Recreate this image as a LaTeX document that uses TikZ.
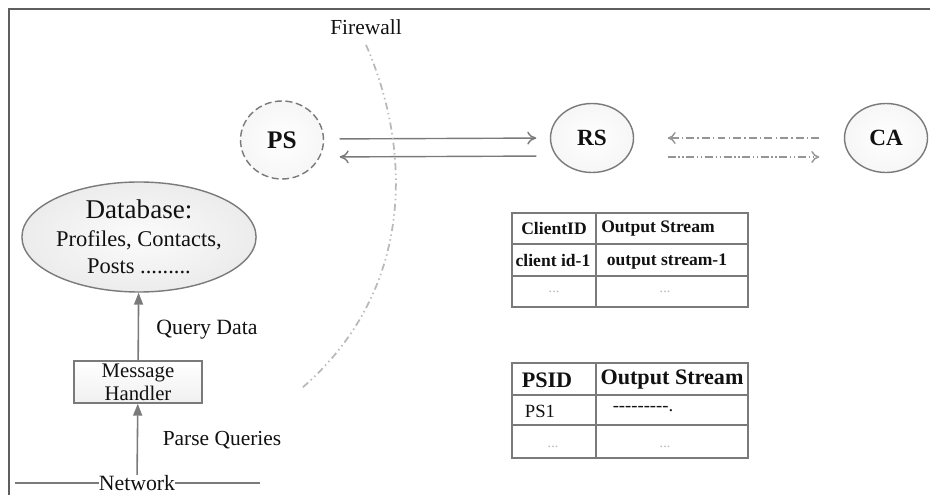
\documentclass[tikz,border=0pt]{standalone}
\usepackage{fontspec}
\setmainfont{Liberation Serif}
\usetikzlibrary{arrows.meta,positioning,shapes.geometric}

\definecolor{linegray}{HTML}{7A7A7A}
\definecolor{framegray}{HTML}{5E5E5E}
\definecolor{inkgray}{HTML}{111111}

\begin{document}
\begin{tikzpicture}[x=1cm,y=1cm]
\tikzset{
  server/.style={ellipse,draw=linegray,line width=0.8pt,minimum width=1.66cm,minimum height=1.38cm,inner sep=0pt,
    inner color=white,outer color=gray!7,text=inkgray,font=\fontsize{13.2}{15}\selectfont\bfseries},
  store/.style={ellipse,draw=linegray,line width=0.8pt,minimum width=4.24cm,minimum height=2.2cm,inner sep=0pt,
    inner color=gray!3,outer color=gray!15,text=inkgray,align=center,font=\fontsize{12.8}{15.6}\selectfont},
  handler/.style={rectangle,draw=linegray,line width=0.8pt,minimum width=2.56cm,minimum height=0.84cm,inner sep=0pt,
    top color=white,bottom color=gray!12,text=inkgray,align=center,font=\fontsize{11.8}{13}\selectfont},
  caption/.style={inner sep=0pt,text=inkgray,font=\fontsize{12.4}{14}\selectfont},
  cellhead/.style={inner sep=0pt,text=inkgray,font=\fontsize{10}{12}\selectfont\bfseries},
  cellbig/.style={inner sep=0pt,text=inkgray,font=\fontsize{12.6}{14}\selectfont\bfseries},
  cell/.style={inner sep=0pt,text=inkgray,font=\fontsize{10.6}{12}\selectfont},
  celldots/.style={inner sep=0pt,text=gray!60,font=\fontsize{8}{9}\selectfont},
  grid/.style={draw=linegray,line width=0.9pt},
  link/.style={linegray,line width=0.8pt,-{To[length=1.8mm,width=2.6mm]}},
  flow/.style={linegray,line width=0.9pt,-{Triangle[length=2.4mm,width=1.8mm]}},
  dashdot/.style={linegray!80,line width=0.8pt,-{To[length=1.6mm,width=2.4mm]},
    dash pattern=on 4.5pt off 1.8pt on 0.8pt off 1.8pt},
  dashdotdot/.style={linegray!80,line width=0.8pt,-{To[length=1.6mm,width=2.4mm]},
    dash pattern=on 4.5pt off 1.5pt on 0.8pt off 1.5pt on 0.8pt off 1.5pt},
  firewall/.style={gray!55,line width=1pt,dash pattern=on 4pt off 2pt on 0.8pt off 2pt on 0.8pt off 2pt}
}
\useasboundingbox (0,0) rectangle (18.6,9.9);
% frame
\draw[framegray,line width=1.4pt] (0.18,0) -- (0.18,9.72) -- (18.6,9.72);
% servers
\node[server,dashed,dash pattern=on 4pt off 2pt,minimum height=1.56cm,font=\fontsize{14.4}{16}\selectfont\bfseries] (n_ps) at (5.64,7.10) {PS};
\node[server] (n_rs) at (11.84,7.14) {RS};
\node[server] (n_ca) at (17.72,7.14) {CA};
\draw[link,shorten <=0.31cm,shorten >=0.27cm] ([yshift=0.02cm]n_ps.east) -- (n_rs.west);
\draw[link,shorten <=0.27cm,shorten >=0.31cm] ([yshift=-0.36cm]n_rs.west) -- ([yshift=-0.34cm]n_ps.east);
\draw[dashdot,shorten <=0.49cm,shorten >=0.67cm] (n_ca.west) -- (n_rs.east);
\draw[dashdotdot,shorten <=0.67cm,shorten >=0.49cm] ([yshift=-0.38cm]n_rs.east) -- ([yshift=-0.38cm]n_ca.west);
% firewall
\node[caption,font=\fontsize{12.2}{14}\selectfont] (n_fw) at (7.32,9.36) {Firewall};
\coordinate (fw_end) at (6.04,2.14);
\draw[firewall] ([yshift=-0.2cm]n_fw.south) .. controls (8.24,6.90) and (8.30,4.10) .. (fw_end);
% backend side
\node[store] (n_db) at (2.78,5.16) {{\fontsize{15.4}{15.6}\selectfont Database:}\\Profiles, Contacts,\\Posts .........};
\node[handler] (n_mh) at (2.76,2.26) {Message\\Handler};
\node[caption] (n_net) at (2.74,0.24) {Network};
\coordinate (net_left) at (0.30,0.24);
\coordinate (net_right) at (5.20,0.24);
\draw[linegray,line width=0.8pt] (net_left) -- (n_net.west);
\draw[linegray,line width=0.8pt] (n_net.east) -- (net_right);
\draw[flow] (n_net) -- (n_mh);
\draw[flow] (n_mh) -- (n_db);
\node[caption] (n_qd) at (4.14,3.30) {Query Data};
\node[caption,font=\fontsize{12.2}{14}\selectfont] (n_pq) at (4.44,1.10) {Parse Queries};
% client table
\draw[grid] (10.24,3.76) rectangle (14.96,5.64);
\draw[grid] (10.24,5.02) -- (14.96,5.02);
\draw[grid] (10.24,4.38) -- (14.96,4.38);
\draw[grid] (11.92,3.76) -- (11.92,5.64);
\node[cellhead] (c_h1) at (11.08,5.33) {ClientID};
\node[cellhead] (c_h2) at (13.16,5.33) {Output Stream};
\node[cellhead] (c_r1) at (11.06,4.70) {client id-1};
\node[cellhead] (c_r2) at (13.34,4.67) {output stream-1};
\node[celldots] (c_d1) at (11.08,4.06) {...};
\node[celldots] (c_d2) at (13.30,4.06) {...};
% ps table
\draw[grid] (10.24,0.74) rectangle (14.96,2.64);
\draw[grid] (10.24,2.00) -- (14.96,2.00);
\draw[grid] (10.24,1.40) -- (14.96,1.40);
\draw[grid] (11.92,0.74) -- (11.92,2.64);
\node[cellbig] (p_h1) at (10.94,2.30) {PSID};
\node[cellbig] (p_h2) at (13.44,2.30) {Output Stream};
\node[cell] (p_r1) at (10.80,1.68) {PS1};
\node[cell] (p_r2) at (12.86,1.72) {{-}{-}{-}{-}{-}{-}{-}{-}{-}.};
\node[celldots] (p_d1) at (11.06,0.96) {...};
\node[celldots] (p_d2) at (13.30,0.96) {...};
\end{tikzpicture}
\end{document}
